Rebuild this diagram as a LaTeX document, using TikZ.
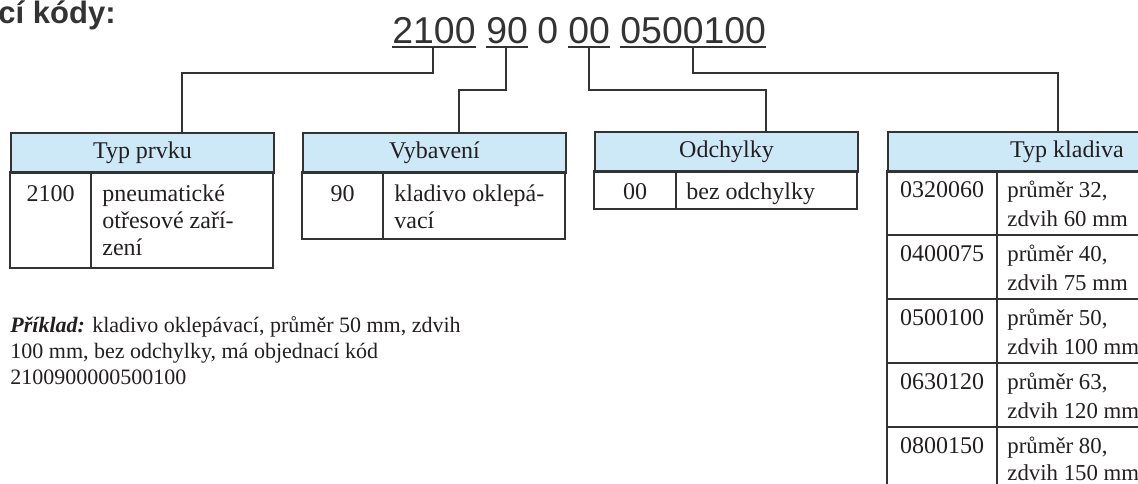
\documentclass[tikz,border=0pt]{standalone}
\usepackage{fontspec}
\setmainfont{Liberation Serif}
\newfontfamily\sansf{Liberation Sans}
\usetikzlibrary{calc}
\definecolor{hdrblue}{HTML}{CDE9F8}
\definecolor{linec}{HTML}{333333}
\definecolor{txtc}{HTML}{231F20}
\tikzset{
  conn/.style={draw=linec, line width=1pt},
  uline/.style={draw=linec, line width=0.9pt},
  codetxt/.style={inner sep=0pt, anchor=base west, text=linec, font=\sansf\fontsize{18.7}{20}\selectfont},
  hdr/.style={draw=linec, line width=1pt, fill=hdrblue, anchor=north west, minimum height=20pt, inner sep=0pt, text=txtc, font=\fontsize{12}{14}\selectfont},
  cellbox/.style={draw=linec, line width=1pt},
  ctext/.style={inner sep=0pt, anchor=base, text=txtc, font=\fontsize{12}{14}\selectfont},
  ltext/.style={inner sep=0pt, anchor=base west, text=txtc, font=\fontsize{12}{14}\selectfont},
  rtext/.style={inner sep=0pt, anchor=base west, text=txtc, font=\fontsize{11.4}{14}\selectfont},
  extext/.style={inner sep=0pt, anchor=base west, text=txtc, font=\fontsize{11}{13}\selectfont},
}
\begin{document}
\begin{tikzpicture}[x=0.5pt, y=-0.5pt]
\useasboundingbox (0,0) rectangle (1138,483);
\clip (0,0) rectangle (1138,483);
% title fragment
\node[inner sep=0pt, anchor=base east, text=linec, font=\sansf\bfseries\fontsize{15.5}{17}\selectfont] (title) at (116,23) {cí kódy:};
% code line
\node[codetxt] (k1) at (392,43) {2100};
\node[codetxt] (k2) at (486,43) {90};
\node[codetxt] (k3) at (537,43) {0};
\node[codetxt] (k4) at (568,43) {00};
\node[codetxt] (k5) at (620,43) {0500100};
\foreach \k in {k1,k2,k4,k5}{
  \draw[uline] ([yshift=-2pt]\k.base west) -- ([yshift=-2pt]\k.base east);
}
\coordinate (u1) at (433,47);
\coordinate (u2) at (506,47);
\coordinate (u4) at (589,47);
\coordinate (u5) at (693,47);
% headers
\node[hdr, minimum width=131.5pt] (h1) at (10,132) {Typ prvku};
\node[hdr, minimum width=131.5pt] (h2) at (302,132) {Vybavení};
\node[hdr, minimum width=131.5pt] (h3) at (594,131) {Odchylky};
\node[hdr, minimum width=179pt] (h4) at (887,131) {Typ kladiva};
% connectors
\draw[conn] (u1) |- (182,73) -- (182,0 |- h1.north);
\draw[conn] (u2) |- (459,90) -- (459,0 |- h2.north);
\draw[conn] (u4) |- (766,90) -- (766,0 |- h3.north);
\draw[conn] (u5) |- (1058,73) -- (1058,0 |- h4.north);
% Typ prvku body
\draw[cellbox] (10,172) rectangle (273,268);
\draw[cellbox] (91,172) -- (91,268);
\node[ctext] (t1a) at (50.5,201) {2100};
\node[ltext] (t1b) at (102,201) {pneumatické};
\node[ltext] (t1c) at (102,228) {otřesové zaří-};
\node[ltext] (t1d) at (102,255) {zení};
% Vybaveni body
\draw[cellbox] (302,172) rectangle (565,239);
\draw[cellbox] (383,172) -- (383,239);
\node[ctext] (t2a) at (342.5,201) {90};
\node[ltext] (t2b) at (394,201) {kladivo oklepá-};
\node[ltext] (t2c) at (394,228) {vací};
% Odchylky body
\draw[cellbox] (594,171) rectangle (857,209);
\draw[cellbox] (676,171) -- (676,209);
\node[ctext] (t3a) at (635,199) {00};
\node[ltext] (t3b) at (686,199) {bez odchylky};
% Typ kladiva body
\draw[cellbox] (887,171) rectangle (1250,520);
\draw[cellbox] (997,171) -- (997,520);
\foreach \yy in {235,299,363,427}{
  \draw[cellbox] (887,\yy) -- (1250,\yy);
}
\node[ctext] (r1a) at (942,197) {0320060};
\node[rtext] (r1b) at (1007,197) {průměr 32,};
\node[rtext] (r1c) at (1007,226) {zdvih 60 mm};
\node[ctext] (r2a) at (942,261) {0400075};
\node[rtext] (r2b) at (1007,261) {průměr 40,};
\node[rtext] (r2c) at (1007,290) {zdvih 75 mm};
\node[ctext] (r3a) at (942,325) {0500100};
\node[rtext] (r3b) at (1007,325) {průměr 50,};
\node[rtext] (r3c) at (1007,354) {zdvih 100 mm};
\node[ctext] (r4a) at (942,389) {0630120};
\node[rtext] (r4b) at (1007,389) {průměr 63,};
\node[rtext] (r4c) at (1007,418) {zdvih 120 mm};
\node[ctext] (r5a) at (942,453) {0800150};
\node[rtext] (r5b) at (1007,453) {průměr 80,};
\node[rtext] (r5c) at (1007,480) {zdvih 150 mm};
% example
\node[extext] (ex1) at (10,332) {\textbf{\textit{Příklad:}} kladivo oklepávací, průměr 50 mm, zdvih};
\node[extext] (ex2) at (10,358) {100 mm, bez odchylky, má objednací kód};
\node[extext] (ex3) at (10,384) {2100900000500100};
\end{tikzpicture}
\end{document}
